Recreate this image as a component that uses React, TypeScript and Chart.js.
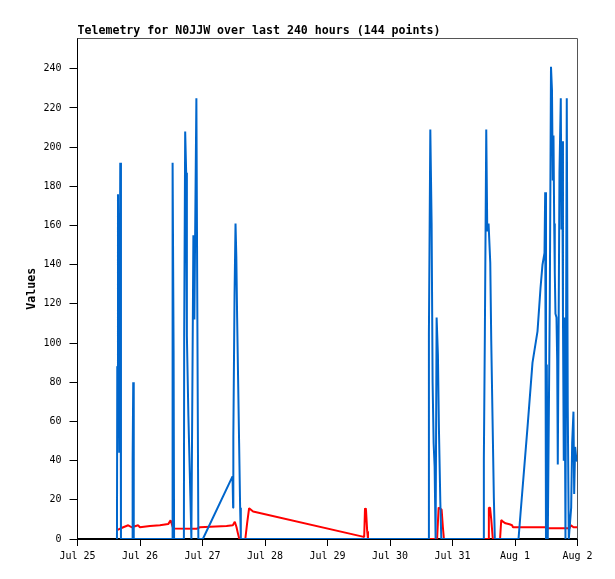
import React, { useRef, useEffect } from "react";
import { Chart, registerables } from "chart.js";

Chart.register(...registerables);

// hours since Jul 25 00:00
const xTickHours = [0, 24, 48, 72, 96, 120, 144, 168, 192];
const xTickLabels = ["Jul 25", "Jul 26", "Jul 27", "Jul 28", "Jul 29", "Jul 30", "Jul 31", "Aug 1", "Aug 2"];
const yTicks = [0, 20, 40, 60, 80, 100, 120, 140, 160, 180, 200, 220, 240];

const blueHours = [
  15.15, 15.27, 15.54, 16.03, 16.42, 16.69,
  21.02, 21.17, 21.4, 21.6,
  36.36, 36.52, 36.9, 37.09,
  40.85, 40.97, 41.35, 41.73, 42.0, 42.58, 43.34, 43.73, 44.5, 44.88, 45.65, 46.03, 46.41,
  48.14, 59.53, 59.76, 59.84, 60.3, 60.68, 60.99, 61.3, 61.68, 62.06, 62.45, 62.72,
  134.71, 134.94, 135.48, 135.98, 136.36, 136.75, 137.13, 137.51, 137.9, 138.4, 138.78, 139.32, 139.7,
  155.93, 156.04, 156.43, 156.96, 157.35, 157.85, 158.5, 158.88, 159.38, 159.88, 160.26,
  169.35, 170.12, 172.8, 174.72, 176.64, 177.79, 178.56, 179.33,
  179.59, 179.9, 180.21, 180.59, 181.36, 181.82, 182.2, 182.51, 182.78, 183.05, 183.28, 183.54,
  183.93, 184.2, 184.43, 184.77, 185.08, 185.58, 185.85, 186.11, 186.42, 186.73, 187.0, 187.38,
  187.88, 188.26, 188.65, 189.57, 189.95, 190.45, 190.72, 191.1, 191.6, 192.0,
];
const blueValues = [
  0, 88, 176, 44, 192, 0,
  0, 40, 80, 0,
  0, 192, 96, 0,
  0, 104, 208, 187, 104, 63, 22, 0, 155, 112, 225, 112, 0,
  0, 32, 16, 52, 124, 161, 144, 113, 81, 49, 16, 0,
  0, 105, 209, 161, 80, 49, 37, 0, 113, 94, 57, 19, 0,
  0, 41, 105, 209, 157, 161, 141, 101, 61, 21, 0,
  0, 13, 57, 90, 106, 128, 140, 146,
  177, 0, 89, 0, 121, 241, 229, 183, 206, 161, 136, 115,
  113, 91, 38, 112, 187, 225, 158, 203, 113, 40, 113, 0,
  225, 67, 0, 16, 49, 65, 23, 47, 40, 40,
];

const redHours = [
  15.15, 17.57, 19.49, 20.79, 22.06, 23.32, 23.97, 27.81, 31.65, 34.83, 35.75, 36.75,
  45.72, 46.99, 57.23, 59.65, 60.41, 61.07, 61.57, 62.14,
  64.44, 65.13, 65.9, 67.43, 109.51, 110.09, 110.4, 110.78, 111.24, 111.55,
  138.09, 138.67, 139.82, 140.31, 140.7,
  157.65, 157.96, 158.42, 158.88, 159.49,
  162.26, 162.72, 163.21, 164.36, 165.9, 166.86, 167.24, 180.09, 180.48, 188.92, 189.49, 190.45, 192.0,
];
const redValues = [
  4.5, 6, 7, 6, 6.5, 7, 6, 6.6, 7, 7.6, 9.5, 5.4,
  5.2, 6, 6.6, 7, 8.8, 6, 3, 0,
  0, 8, 15.7, 14, 1.2, 1, 15.7, 15, 4, 0,
  0, 16, 15, 6, 0,
  0, 16, 16, 10, 0,
  0, 9.7, 9, 8, 7.5, 7, 6, 6, 5.5, 5.5, 7, 6, 6,
];

const mono = "'DejaVu Sans Mono', monospace";

const framePlugin = {
  id: "frame",
  beforeDatasetsDraw(chart: any) {
    const { ctx, chartArea } = chart;
    const t = Math.floor(chartArea.top) + 0.5;
    const r = Math.floor(chartArea.right) + 0.5;
    ctx.save();
    ctx.strokeStyle = "#555";
    ctx.lineWidth = 1;
    ctx.beginPath();
    ctx.moveTo(chartArea.left, t);
    ctx.lineTo(r, t);
    ctx.lineTo(r, chartArea.bottom);
    ctx.stroke();
    ctx.restore();
  },
};

const TelemetryChart = () => {
  const chartRef = useRef<HTMLCanvasElement>(null);

  useEffect(() => {
    document.body.style.margin = "0";
    if (!chartRef.current) return;
    const ctx = chartRef.current.getContext("2d");
    if (!ctx) return;

    const chart = new Chart(ctx, {
      type: "line",
      data: {
        datasets: [
          {
            label: "blue",
            data: blueHours.map((h, i) => ({ x: h, y: blueValues[i] })),
            borderColor: "#0066cc",
            borderWidth: 2,
            pointRadius: 0,
            tension: 0,
            borderJoinStyle: "bevel",
          },
          {
            label: "red",
            data: redHours.map((h, i) => ({ x: h, y: redValues[i] })),
            borderColor: "#ff0000",
            borderWidth: 2,
            pointRadius: 0,
            tension: 0,
            borderJoinStyle: "bevel",
          },
        ],
      },
      options: {
        animation: false,
        responsive: true,
        maintainAspectRatio: false,
        layout: { padding: { top: 0, right: 37.5, bottom: 0, left: 0 } },
        scales: {
          x: {
            type: "linear",
            min: 0,
            max: 192,
            z: 1,
            border: { color: "#000", width: 2 },
            grid: { drawOnChartArea: false, tickLength: 7, color: "#000" },
            ticks: {
              font: { family: mono, size: 10 },
              color: "#000",
              padding: 4,
              maxRotation: 0,
              autoSkip: false,
              callback: (_v: any, i: number) => xTickLabels[i],
            },
            afterBuildTicks: (s: any) => {
              s.ticks = xTickHours.map((value) => ({ value }));
            },
            afterFit: (s: any) => {
              s.height = 40;
            },
          },
          y: {
            min: 0,
            max: 255.5,
            z: 1,
            border: { color: "#000", width: 1 },
            grid: { drawOnChartArea: false, tickLength: 8, color: "#000" },
            ticks: {
              font: { family: mono, size: 10 },
              color: "#000",
              padding: 8,
            },
            afterBuildTicks: (s: any) => {
              s.ticks = yTicks.map((value) => ({ value }));
            },
            afterFit: (s: any) => {
              s.width = 77.5;
            },
            title: {
              display: true,
              text: "Values",
              color: "#000",
              font: { family: mono, weight: "bold", size: 11.6 },
              padding: { top: 25, bottom: 0 },
            },
          },
        },
        plugins: {
          legend: { display: false },
          tooltip: { enabled: false },
          title: {
            display: true,
            text: "Telemetry for N0JJW over last 240 hours (144 points)",
            align: "start",
            fullSize: false,
            color: "#000",
            font: { family: mono, weight: "bold", size: 11.6 },
            padding: { top: 24, bottom: 0.5 },
          },
        },
      },
      plugins: [framePlugin],
    });

    return () => {
      chart.destroy();
    };
  }, []);

  return (
    <div style={{ width: 615, height: 579 }}>
      <canvas ref={chartRef} />
    </div>
  );
};

export default function App() {
  return <TelemetryChart />;
}
